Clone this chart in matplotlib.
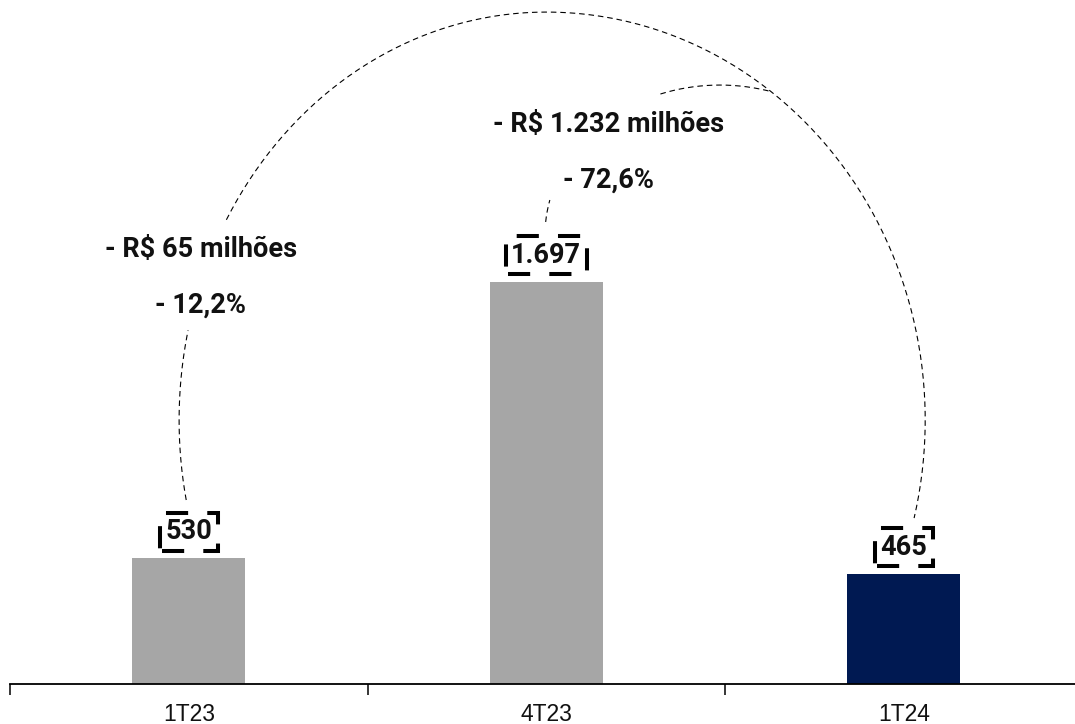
import matplotlib

matplotlib.use("Agg")
import matplotlib.pyplot as plt
import numpy as np

# Data
periods = ["1T23", "4T23", "1T24"]
values = [530, 1697, 465]
value_labels = ["530", "1.697", "465"]
bar_colors = ["#a6a6a6", "#a6a6a6", "#001952"]
var_abs = ["- R$ 65 milhões", "- R$ 1.232 milhões"]
var_pct = ["- 12,2%", "- 72,6%"]

plt.rcParams["font.family"] = ["Roboto", "DejaVu Sans"]

fig = plt.figure(figsize=(10.75, 7.24), dpi=100)
ax = fig.add_axes([10 / 1075, 40 / 724, 1065 / 1075, 684 / 724])

x = np.arange(len(periods))
ax.bar(x, values, width=0.316, color=bar_colors, zorder=2)

ax.set_xlim(-0.5, 2.479)
ax.set_ylim(0, 2887)

# Spines and ticks
for side in ["top", "right", "left"]:
    ax.spines[side].set_visible(False)
ax.spines["bottom"].set_linewidth(1.3)
ax.set_yticks([])
ax.set_xticks(x)
ax.set_xticklabels(periods, fontsize=16.5, color="#111111",
                   family=["Liberation Sans", "DejaVu Sans"])
ax.tick_params(axis="x", which="major", length=0, pad=13.5)
ax.set_xticks(np.arange(-0.5, len(periods) - 0.5, 1.0), minor=True)
ax.tick_params(axis="x", which="minor", length=8, width=1.1, direction="out")

# Value labels with dashed boxes
for xi, v, lbl in zip(x, values, value_labels):
    ax.annotate(lbl, (xi, v), xytext=(0, 9.5), textcoords="offset points",
                ha="center", va="bottom", fontsize=19.5, fontweight="bold",
                color="#111111", zorder=4,
                bbox=dict(boxstyle="square,pad=0.2", fc="none", ec="black",
                          lw=2.9, ls=(9.75, (5.5, 4.75))))


# Dashed arcs
def ellipse_pts(cx, cy, a, b, t0, t1, n=300, a_right=None):
    t = np.radians(np.linspace(t0, t1, n))
    c = np.cos(t)
    aa = np.where((c > 0) & (a_right is not None), a_right or a, a)
    return cx + aa * c, cy + b * np.sin(t)


arc_style = dict(color="black", lw=0.8, ls=(0, (5, 3.5)), zorder=3)

# big arc 1T23 -> 1T24
bcx, bcy, ba, bar_, bb = (x[0] + x[2]) / 2, 1114, 1.027, 1.06, 1722
ax.plot(*ellipse_pts(bcx, bcy, ba, bb, 191.3, 167.3), **arc_style)
ax.plot(*ellipse_pts(bcx, bcy, ba, bb, 150.6, -13.9, a_right=bar_), **arc_style)

# small arc 4T23 -> joins big arc
scx, scy, sa, sb = 1.486, 1895, 0.4895, 633
ax.plot(*ellipse_pts(scx, scy, sa, sb, 175.0, 166.5), **arc_style)
sx, sy = ellipse_pts(scx, scy, sa, sb, 109.9, 30, n=400)
inside = ((sx - bcx) / np.where(sx > bcx, bar_, ba)) ** 2 + ((sy - bcy) / bb) ** 2 < 1
stop = np.argmin(inside) if not inside.all() else len(sx)
ax.plot(sx[:stop + 1], sy[:stop + 1], **arc_style)

# Variation texts
txt_style = dict(ha="center", va="center", fontsize=19.5, fontweight="bold", color="#111111")
ax.text(0.034, 1832, var_abs[0], **txt_style)
ax.text(0.034, 1600, var_pct[0], **txt_style)
ax.text(1.173, 2360, var_abs[1], **txt_style)
ax.text(1.173, 2127, var_pct[1], **txt_style)

plt.savefig("out.png", dpi=100)
